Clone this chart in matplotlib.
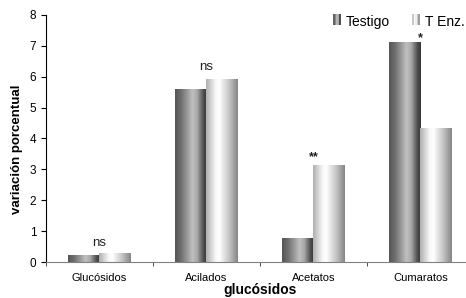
import numpy as np
import matplotlib.pyplot as plt
from matplotlib.colors import LinearSegmentedColormap
from matplotlib.legend_handler import HandlerBase
from matplotlib.patches import Rectangle

plt.rcParams['font.family'] = ['Liberation Sans', 'DejaVu Sans']

categorias = ["Glucósidos", "Acilados", "Acetatos", "Cumaratos"]
series = ["Testigo", "T Enz."]
testigo = [0.22, 5.57, 0.77, 7.12]
t_enz = [0.28, 5.91, 3.12, 4.31]
marcas = ["ns", "ns", "**", "*"]
marca_y = [0.62, 6.3, 3.4, 7.25]

# cylinder-like shading, like the old excel bars
cmap_testigo = LinearSegmentedColormap.from_list("testigo", [
    (0.0, "#555555"), (0.2, "#727272"), (0.55, "#c0c0c0"),
    (0.7, "#a8a8a8"), (0.9, "#4e4e4e"), (1.0, "#383838")])
cmap_tenz = LinearSegmentedColormap.from_list("tenz", [
    (0.0, "#b0b0b0"), (0.3, "#f8f8f8"), (0.42, "#ffffff"),
    (0.75, "#c0c0c0"), (1.0, "#868686")])
grad = np.linspace(0, 1, 64).reshape(1, -1)

fig = plt.figure(figsize=(4.66, 2.98), dpi=100)
ax = fig.add_axes([0.0987, 0.1208, 0.918, 0.829])

x = np.arange(len(categorias))
w = 0.295
for vals, off, cmap in [(testigo, -w, cmap_testigo), (t_enz, 0, cmap_tenz)]:
    bars = ax.bar(x + off, vals, width=w, align="edge", color="none")
    for b in bars:
        x0, y0 = b.get_x(), b.get_y()
        ax.imshow(grad, cmap=cmap, aspect="auto", interpolation="bilinear",
                  extent=(x0, x0 + b.get_width(), y0, y0 + b.get_height()),
                  zorder=2)

for xi, m, my in zip(x, marcas, marca_y):
    ax.text(xi, my, m, ha="center", va="center", fontsize=9.5 if m == "ns" else 9,
            fontweight="normal" if m == "ns" else "bold", color="#222222")

ax.set_xlim(-0.5, 3.5)
ax.set_ylim(0, 8)
ax.set_yticks(range(0, 9))
ax.set_xticks(x)
ax.set_xticklabels(categorias, fontsize=8)
ax.set_xticks(np.arange(-0.5, 4, 1), minor=True)
ax.tick_params(axis="x", which="major", length=0, pad=8)
ax.tick_params(axis="x", which="minor", length=3, direction="out", color="#333333")
ax.tick_params(axis="y", length=3.5, direction="out", labelsize=8.5)

ax.spines["top"].set_visible(False)
ax.spines["right"].set_visible(False)
ax.spines["bottom"].set_color("#808080")
ax.spines["left"].set_color("black")
ax.spines["bottom"].set_zorder(3)

ax.set_ylabel("variación porcentual", fontsize=9.5, fontweight="bold")
ax.yaxis.set_label_coords(-0.054, 0.457)
ax.set_xlabel("glucósidos", fontsize=10, fontweight="bold")
ax.xaxis.set_label_coords(0.5, -0.085)


class GradHandler(HandlerBase):
    def __init__(self, cmap):
        super().__init__()
        self.cmap = cmap

    def create_artists(self, legend, orig, xd, yd, width, height, fontsize, trans):
        n = 5
        out = []
        for i in range(n):
            r = Rectangle((xd + i * width / n, yd), width / n, height,
                          facecolor=self.cmap((i + 0.5) / n), edgecolor="none",
                          transform=trans)
            out.append(r)
        return out


h1 = Rectangle((0, 0), 1, 1)
h2 = Rectangle((0, 0), 1, 1)
ax.legend([h1, h2], series, ncol=2, frameon=False, fontsize=10,
          loc="upper right", bbox_to_anchor=(0.978, 1.0),
          borderaxespad=0, borderpad=0,
          handlelength=0.55, handleheight=0.85, handletextpad=0.35,
          columnspacing=1.6,
          handler_map={h1: GradHandler(cmap_testigo), h2: GradHandler(cmap_tenz)})

fig.savefig("out.png", dpi=100)
